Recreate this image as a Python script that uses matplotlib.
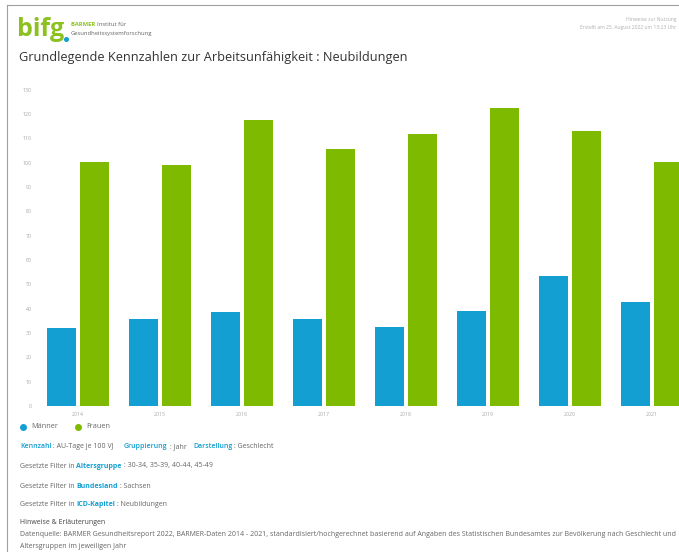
"""Grundlegende Kennzahlen zur Arbeitsunfähigkeit: Neubildungen (bifg dashboard look)."""

import matplotlib
matplotlib.use("Agg")
import matplotlib.pyplot as plt
import numpy as np

W, H = 679, 552

years = ["2014", "2015", "2016", "2017", "2018", "2019", "2020", "2021"]
maenner = [32.0, 35.8, 38.7, 35.8, 32.5, 39.0, 53.5, 42.8]
frauen = [100.4, 99.2, 117.7, 105.8, 112.0, 122.6, 113.2, 100.4]
y_ticks = list(range(0, 140, 10))

BLUE = "#149fd2"
GREEN = "#7dba00"
GREY = "#666666"
LIGHT = "#b0b0b0"

plt.rcParams["font.family"] = ["Open Sans", "DejaVu Sans"]


def px(x, y):
    """Pixel position (from top left) to figure fraction."""
    return x / W, 1 - y / H


def chain(fig, x, y, parts, size):
    """Draw text segments one after another on a line."""
    r = fig.canvas.get_renderer()
    for s, color, weight in parts:
        t = fig.text(*px(x, y), s, color=color, fontsize=size, fontweight=weight,
                     va="center", ha="left")
        x += t.get_window_extent(r).width
    return x


fig = plt.figure(figsize=(W / 100, H / 100), dpi=100)
fig.patch.set_facecolor("white")

# page frame
fig.add_artist(plt.Line2D([7 / W, 1], [1 - 5 / H] * 2, color="#a0a0a0", lw=0.8))
fig.add_artist(plt.Line2D([7 / W] * 2, [0, 1 - 5 / H], color="#a0a0a0", lw=0.8))

# logo
fig.text(*px(17, 30), "bifg", color="#8cc21f", fontsize=18, fontweight="bold", va="center")
fig.add_artist(plt.Line2D([66 / W], [1 - 39 / H], marker="o", markersize=2.6, color=BLUE, lw=0))
chain(fig, 71, 25, [("BARMER ", "#8cc21f", "bold"), ("Institut für", GREY, "normal")], 4.2)
fig.text(*px(71, 33), "Gesundheitssystemforschung", color=GREY, fontsize=4.2, va="center")
fig.text(*px(676, 19), "Hinweise zur Nutzung", color=LIGHT, fontsize=3.6, ha="right", va="center")
fig.text(*px(676, 27), "Erstellt am 25. August 2022 um 13:23 Uhr", color=LIGHT, fontsize=3.6,
         ha="right", va="center")

fig.text(*px(19, 57), "Grundlegende Kennzahlen zur Arbeitsunfähigkeit : Neubildungen",
         color="#333333", fontsize=9.2, va="center")

# chart
ax = fig.add_axes([37 / W, (H - 406) / H, 656 / W, 321 / H])
x = np.arange(len(years))
bw = 0.36
ax.bar(x - bw / 2 - 0.022, maenner, bw, color=BLUE, label="Männer")
ax.bar(x + bw / 2 + 0.022, frauen, bw, color=GREEN, label="Frauen")
ax.set_xlim(-0.5, len(years) - 0.5)
ax.set_ylim(0, 132)
ax.set_yticks(y_ticks)
ax.set_xticks(x, years)
ax.tick_params(length=0, labelsize=3.8, labelcolor="#a8a8a8", pad=4)
for s in ax.spines.values():
    s.set_visible(False)

# legend
fig.add_artist(plt.Line2D([23 / W], [1 - 427 / H], marker="o", markersize=4, color=BLUE, lw=0))
fig.text(*px(31, 427), "Männer", color=GREY, fontsize=5.2, va="center")
fig.add_artist(plt.Line2D([78 / W], [1 - 427 / H], marker="o", markersize=4, color=GREEN, lw=0))
fig.text(*px(86, 427), "Frauen", color=GREY, fontsize=5.2, va="center")

fs = 5.0
chain(fig, 20, 447, [("Kennzahl", BLUE, "semibold"), (" : AU-Tage je 100 VJ", GREY, "normal")], fs)
chain(fig, 124, 447, [("Gruppierung", BLUE, "semibold"), (" : Jahr", GREY, "normal")], fs)
chain(fig, 193, 447, [("Darstellung", BLUE, "semibold"), (" : Geschlecht", GREY, "normal")], fs)
chain(fig, 20, 466, [("Gesetzte Filter in ", GREY, "normal"), ("Altersgruppe", BLUE, "bold"),
                     (" : 30-34, 35-39, 40-44, 45-49", GREY, "normal")], fs)
chain(fig, 20, 486, [("Gesetzte Filter in ", GREY, "normal"), ("Bundesland", BLUE, "bold"),
                     (" : Sachsen", GREY, "normal")], fs)
chain(fig, 20, 505, [("Gesetzte Filter in ", GREY, "normal"), ("ICD-Kapitel", BLUE, "bold"),
                     (" : Neubildungen", GREY, "normal")], fs)

fig.text(*px(20, 523), "Hinweise & Erläuterungen", color="#444444", fontsize=fs, va="center")
fig.text(*px(20, 535),
         "Datenquelle: BARMER Gesundheitsreport 2022, BARMER-Daten 2014 - 2021, standardisiert/"
         "hochgerechnet basierend auf Angaben des Statistischen Bundesamtes zur Bevölkerung nach "
         "Geschlecht und", color=GREY, fontsize=5.0, va="center")
fig.text(*px(20, 547), "Altersgruppen im jeweiligen Jahr", color=GREY, fontsize=5.0, va="center")

fig.savefig("out.png", dpi=100)
